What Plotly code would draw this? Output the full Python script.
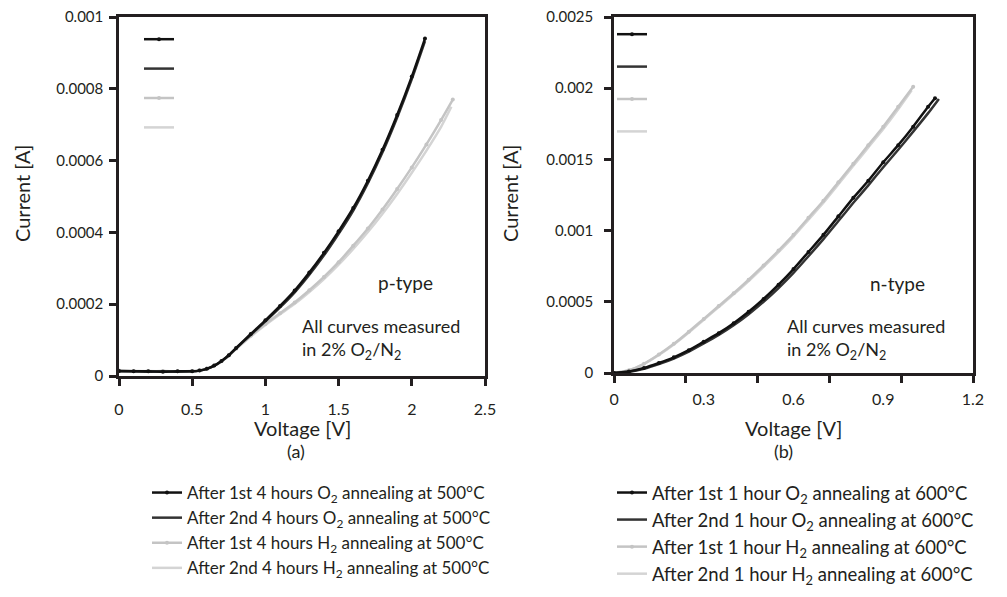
import plotly.graph_objects as go

# ---------------- (a) p-type ----------------
va_o2_1 = [0, 0.1, 0.2, 0.3, 0.4, 0.5, 0.55, 0.6, 0.65, 0.7, 0.75, 0.8, 0.9, 1.0, 1.1, 1.2, 1.3, 1.4, 1.5, 1.6, 1.7, 1.8, 1.9, 2.0, 2.09]
ia_o2_1 = [1.4e-5, 1.3e-5, 1.3e-5, 1.2e-5, 1.3e-5, 1.3e-5, 1.5e-5, 2.0e-5, 2.9e-5, 4.2e-5, 5.8e-5, 7.8e-5, 1.17e-4, 1.55e-4,
           1.95e-4, 2.38e-4, 2.88e-4, 3.43e-4, 4.03e-4, 4.68e-4, 5.44e-4, 6.30e-4, 7.27e-4, 8.34e-4, 9.40e-4]
va_o2_2 = [0, 0.1, 0.2, 0.3, 0.4, 0.5, 0.55, 0.6, 0.65, 0.7, 0.75, 0.8, 0.9, 1.0, 1.1, 1.2, 1.3, 1.4, 1.5, 1.6, 1.7, 1.8, 1.9, 2.0, 2.09]
ia_o2_2 = [1.3e-5, 1.3e-5, 1.2e-5, 1.3e-5, 1.2e-5, 1.3e-5, 1.5e-5, 2.0e-5, 2.8e-5, 4.1e-5, 5.7e-5, 7.7e-5, 1.15e-4, 1.52e-4,
           1.91e-4, 2.33e-4, 2.82e-4, 3.36e-4, 3.96e-4, 4.61e-4, 5.37e-4, 6.23e-4, 7.20e-4, 8.27e-4, 9.33e-4]
va_h2_1 = [0, 0.1, 0.2, 0.3, 0.4, 0.5, 0.55, 0.6, 0.65, 0.7, 0.75, 0.8, 0.9, 1.0, 1.1, 1.2, 1.3, 1.4, 1.5, 1.6, 1.7, 1.8, 1.9, 2.0, 2.1, 2.2, 2.28]
ia_h2_1 = [1.5e-5, 1.4e-5, 1.3e-5, 1.4e-5, 1.3e-5, 1.4e-5, 1.6e-5, 2.1e-5, 2.9e-5, 4.1e-5, 5.7e-5, 7.6e-5, 1.12e-4, 1.45e-4,
           1.75e-4, 2.05e-4, 2.39e-4, 2.76e-4, 3.17e-4, 3.63e-4, 4.11e-4, 4.64e-4, 5.21e-4, 5.81e-4, 6.45e-4, 7.13e-4, 7.70e-4]
va_h2_2 = [0, 0.1, 0.2, 0.3, 0.4, 0.5, 0.55, 0.6, 0.65, 0.7, 0.75, 0.8, 0.9, 1.0, 1.1, 1.2, 1.3, 1.4, 1.5, 1.6, 1.7, 1.8, 1.9, 2.0, 2.1, 2.2, 2.27]
ia_h2_2 = [1.4e-5, 1.3e-5, 1.4e-5, 1.3e-5, 1.3e-5, 1.3e-5, 1.5e-5, 2.0e-5, 2.8e-5, 4.0e-5, 5.6e-5, 7.5e-5, 1.10e-4, 1.42e-4,
           1.72e-4, 2.01e-4, 2.34e-4, 2.70e-4, 3.10e-4, 3.54e-4, 4.01e-4, 4.52e-4, 5.07e-4, 5.66e-4, 6.28e-4, 6.94e-4, 7.50e-4]

# ---------------- (b) n-type ----------------
vb_o2_1 = [0, 0.05, 0.1, 0.15, 0.2, 0.25, 0.3, 0.35, 0.4, 0.45, 0.5, 0.55, 0.6, 0.65, 0.7, 0.75, 0.8, 0.85, 0.9, 0.95, 1.0, 1.05, 1.073]
ib_o2_1 = [0, 1.0e-5, 3.5e-5, 7.0e-5, 1.1e-4, 1.6e-4, 2.2e-4, 2.8e-4, 3.5e-4, 4.3e-4, 5.2e-4, 6.2e-4, 7.3e-4, 8.5e-4,
           9.7e-4, 1.10e-3, 1.23e-3, 1.35e-3, 1.48e-3, 1.60e-3, 1.73e-3, 1.87e-3, 1.93e-3]
vb_o2_2 = [0, 0.05, 0.1, 0.15, 0.2, 0.25, 0.3, 0.35, 0.4, 0.45, 0.5, 0.55, 0.6, 0.65, 0.7, 0.75, 0.8, 0.85, 0.9, 0.95, 1.0, 1.05, 1.086]
ib_o2_2 = [0, 0.8e-5, 3.0e-5, 6.3e-5, 1.02e-4, 1.50e-4, 2.07e-4, 2.67e-4, 3.35e-4, 4.13e-4, 5.00e-4, 5.97e-4, 7.03e-4, 8.20e-4,
           9.40e-4, 1.067e-3, 1.195e-3, 1.318e-3, 1.445e-3, 1.568e-3, 1.695e-3, 1.825e-3, 1.925e-3]
vb_h2_1 = [0, 0.05, 0.1, 0.15, 0.2, 0.25, 0.3, 0.35, 0.4, 0.45, 0.5, 0.55, 0.6, 0.65, 0.7, 0.75, 0.8, 0.85, 0.9, 0.95, 1.0]
ib_h2_1 = [0, 2.0e-5, 6.5e-5, 1.30e-4, 2.05e-4, 2.90e-4, 3.80e-4, 4.70e-4, 5.60e-4, 6.55e-4, 7.55e-4, 8.60e-4, 9.70e-4,
           1.09e-3, 1.21e-3, 1.34e-3, 1.47e-3, 1.60e-3, 1.73e-3, 1.87e-3, 2.01e-3]
vb_h2_2 = [0, 0.05, 0.1, 0.15, 0.2, 0.25, 0.3, 0.35, 0.4, 0.45, 0.5, 0.55, 0.6, 0.65, 0.7, 0.75, 0.8, 0.85, 0.9, 0.95, 0.995]
ib_h2_2 = [0, 1.9e-5, 6.3e-5, 1.27e-4, 2.01e-4, 2.85e-4, 3.74e-4, 4.63e-4, 5.52e-4, 6.46e-4, 7.45e-4, 8.49e-4, 9.58e-4,
           1.077e-3, 1.196e-3, 1.325e-3, 1.455e-3, 1.584e-3, 1.713e-3, 1.852e-3, 1.985e-3]

names_a = ["After 1st 4 hours O<sub>2</sub> annealing at 500°C",
           "After 2nd 4 hours O<sub>2</sub> annealing at 500°C",
           "After 1st 4 hours H<sub>2</sub> annealing at 500°C",
           "After 2nd 4 hours H<sub>2</sub> annealing at 500°C"]
names_b = ["After 1st 1 hour O<sub>2</sub> annealing at 600°C",
           "After 2nd 1 hour O<sub>2</sub> annealing at 600°C",
           "After 1st 1 hour H<sub>2</sub> annealing at 600°C",
           "After 2nd 1 hour H<sub>2</sub> annealing at 600°C"]

xticks_a = [0, 0.5, 1, 1.5, 2, 2.5]
xtext_a = ["0", "0.5", "1", "1.5", "2", "2.5"]
yticks_a = [0, 0.0002, 0.0004, 0.0006, 0.0008, 0.001]
ytext_a = ["0", "0.0002", "0.0004", "0.0006", "0.0008", "0.001"]
xlabel_vals_b = [0.0001, 0.3, 0.6, 0.9, 1.1999]
xtext_b = ["0", "0.3", "0.6", "0.9", "1.2"]
xtickmarks_b = [0, 0.24, 0.48, 0.72, 0.96, 1.2]
yticks_b = [0, 0.0005, 0.001, 0.0015, 0.002, 0.0025]
ytext_b = ["0", "0.0005", "0.001", "0.0015", "0.002", "0.0025"]

colors = ["#111111", "#333333", "#c4c4c4", "#d4d4d4"]
with_markers = [True, False, True, False]

INK = "#231f20"
FONT = "Lato"
W, H = 1007, 597
FS_XTICK = 16
FS_YTICK = 15
FS_TEXT = 18
FS_LEG_A = 17
FS_LEG_B = 18.5
FS_TITLE = 20

fig = go.Figure()

data_a = [(va_o2_1, ia_o2_1), (va_o2_2, ia_o2_2), (va_h2_1, ia_h2_1), (va_h2_2, ia_h2_2)]
data_b = [(vb_o2_1, ib_o2_1), (vb_o2_2, ib_o2_2), (vb_h2_1, ib_h2_1), (vb_h2_2, ib_h2_2)]

# draw grey first so the black curves sit on top
order = [3, 2, 1, 0]
for i in order:
    x, y = data_a[i]
    fig.add_trace(go.Scatter(
        x=x, y=y, name=names_a[i], xaxis="x", yaxis="y", legend="legend",
        legendgroup="a%d" % i, legendrank=i,
        mode="lines+markers" if with_markers[i] else "lines",
        line=dict(color=colors[i], width=2.5, shape="spline", smoothing=0.6),
        marker=dict(size=4, color=colors[i]),
    ))
for i in order:
    x, y = data_b[i]
    fig.add_trace(go.Scatter(
        x=x, y=y, name=names_b[i], xaxis="x2", yaxis="y2", legend="legend2",
        legendgroup="b%d" % i, legendrank=i,
        mode="lines+markers" if with_markers[i] else "lines",
        line=dict(color=colors[i], width=2.5, shape="spline", smoothing=0.6),
        marker=dict(size=4, color=colors[i]),
    ))

# leftover key marks (without text) drawn in the top-left corner of each panel
for leg, ax, ay, pre in [("legend3", "x", "y", "c"), ("legend4", "x2", "y2", "d")]:
    for i in range(4):
        fig.add_trace(go.Scatter(
            x=[None], y=[None], name=" ", xaxis=ax, yaxis=ay, legend=leg,
            legendgroup="%s%d" % (pre, i), legendrank=i,
            mode="lines+markers" if with_markers[i] else "lines",
            line=dict(color=colors[i], width=2.5),
            marker=dict(size=4, color=colors[i]),
        ))

axis_common = dict(showline=True, linewidth=2.5, linecolor=INK, mirror=True,
                   showgrid=False, zeroline=False, ticks="outside", ticklen=7,
                   tickwidth=2.5, tickcolor=INK, automargin=False,
                   ticklabeloverflow="allow")
xfont = dict(family=FONT, size=FS_XTICK, color=INK)
yfont = dict(family=FONT, size=FS_YTICK, color=INK)

# the page body adds an 8px offset, so figure coordinates = picture coordinates - 8
def px(x):
    return (x - 8) / W

def py(y):
    return 1 - (y - 8) / H

fig.update_layout(
    width=W, height=H,
    margin=dict(l=0, r=0, t=0, b=0, autoexpand=False),
    paper_bgcolor="white", plot_bgcolor="white",
    font=dict(family=FONT, size=FS_TEXT, color=INK),
    xaxis=dict(domain=[px(119), px(485)], anchor="y", range=[0, 2.5],
               tickmode="array", tickvals=xticks_a, ticktext=xtext_a,
               ticklabelstandoff=10, tickfont=xfont, **axis_common),
    yaxis=dict(domain=[py(376), py(17)], anchor="x", range=[0, 0.001],
               tickmode="array", tickvals=yticks_a, ticktext=ytext_a,
               ticklabelstandoff=3, tickfont=yfont, **axis_common),
    xaxis2=dict(domain=[px(614), px(973)], anchor="y2", range=[0, 1.2],
                tickmode="array", tickvals=xlabel_vals_b, ticktext=xtext_b,
                ticklabelstandoff=10, tickfont=xfont,
                minor=dict(tickmode="array", tickvals=xtickmarks_b, ticks="outside",
                           ticklen=7, tickwidth=2.5, tickcolor=INK, showgrid=False),
                **{**axis_common, "ticks": ""}),
    yaxis2=dict(domain=[py(373), py(17)], anchor="x2", range=[0, 0.0025],
                tickmode="array", tickvals=yticks_b, ticktext=ytext_b,
                ticklabelstandoff=8, tickfont=yfont, **axis_common),
    legend=dict(x=139 / W, y=1 - 467 / H, xanchor="left", yanchor="top",
                bgcolor="rgba(0,0,0,0)", itemwidth=30, tracegroupgap=0,
                font=dict(family=FONT, size=FS_LEG_A, color=INK), itemclick=False),
    legend2=dict(x=604 / W, y=1 - 466 / H, xanchor="left", yanchor="top",
                 bgcolor="rgba(0,0,0,0)", itemwidth=30, tracegroupgap=0,
                 font=dict(family=FONT, size=FS_LEG_B, color=INK), itemclick=False),
    legend3=dict(x=131 / W, y=1 - 13 / H, xanchor="left", yanchor="top",
                 bgcolor="rgba(0,0,0,0)", itemwidth=30, tracegroupgap=3,
                 font=dict(family=FONT, size=FS_TEXT, color=INK), itemclick=False),
    legend4=dict(x=604 / W, y=1 - 8 / H, xanchor="left", yanchor="top",
                 bgcolor="rgba(0,0,0,0)", itemwidth=30, tracegroupgap=6,
                 font=dict(family=FONT, size=FS_TEXT, color=INK), itemclick=False),
    annotations=[
        # axis titles
        dict(text="Voltage [V]", x=px(302), y=py(428), xref="paper", yref="paper",
             showarrow=False, xanchor="center", yanchor="middle",
             font=dict(size=FS_TITLE)),
        dict(text="Voltage [V]", x=px(793), y=py(428), xref="paper", yref="paper",
             showarrow=False, xanchor="center", yanchor="middle",
             font=dict(size=FS_TITLE)),
        dict(text="Current [A]", x=px(22), y=py(194), xref="paper", yref="paper",
             showarrow=False, xanchor="center", yanchor="middle", textangle=-90,
             font=dict(size=FS_TITLE)),
        dict(text="Current [A]", x=px(510), y=py(194), xref="paper", yref="paper",
             showarrow=False, xanchor="center", yanchor="middle", textangle=-90,
             font=dict(size=FS_TITLE)),
        # panel notes
        dict(text="p-type", x=px(405), y=py(282), xref="paper", yref="paper",
             showarrow=False, xanchor="center", yanchor="middle", font=dict(size=19)),
        dict(text="All curves measured<br>in 2% O<sub>2</sub>/N<sub>2</sub>",
             x=px(300), y=py(339), xref="paper", yref="paper",
             showarrow=False, xanchor="left", yanchor="middle", align="left"),
        dict(text="n-type", x=px(897), y=py(283), xref="paper", yref="paper",
             showarrow=False, xanchor="center", yanchor="middle", font=dict(size=19)),
        dict(text="All curves measured<br>in 2% O<sub>2</sub>/N<sub>2</sub>",
             x=px(785), y=py(339), xref="paper", yref="paper",
             showarrow=False, xanchor="left", yanchor="middle", align="left"),
        dict(text="(a)", x=px(296), y=py(451), xref="paper", yref="paper",
             showarrow=False, xanchor="center", yanchor="middle"),
        dict(text="(b)", x=px(783), y=py(451), xref="paper", yref="paper",
             showarrow=False, xanchor="center", yanchor="middle"),
    ],
)

fig.write_html("out.html")
